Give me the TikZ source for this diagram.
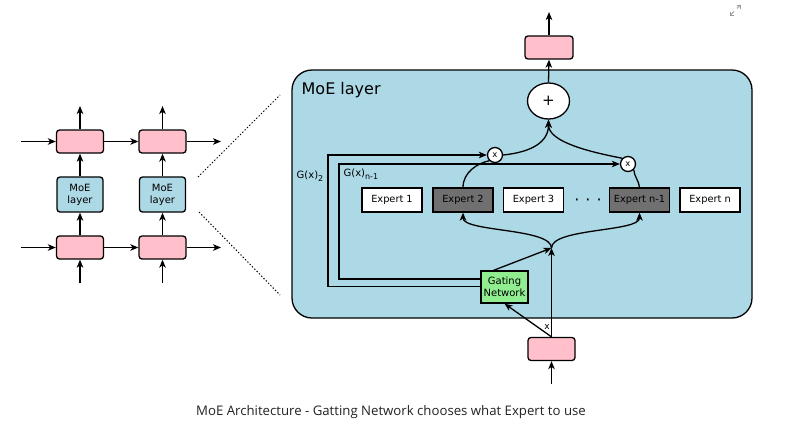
\documentclass[tikz,border=0pt]{standalone}
\usepackage{fontspec}
\setmainfont{DejaVu Sans}
\newfontfamily\capfont{Open Sans}
\usetikzlibrary{arrows.meta,shapes.geometric}
\definecolor{pinkc}{HTML}{FFC0CB}
\definecolor{lblue}{HTML}{ADD8E6}
\definecolor{lgreen}{HTML}{90EE90}
\definecolor{dgray}{HTML}{707070}
\definecolor{capcol}{HTML}{222222}
\newcommand{\mysub}[1]{\raisebox{-3pt}{\fontsize{8}{9}\selectfont #1}}
\begin{document}
\begin{tikzpicture}[x=1pt,y=-1pt,
  every path/.style={line width=1.3pt},
  arr/.style={-{Stealth[length=8pt,width=6.5pt,inset=2.2pt]}},
  pinkbox/.style={draw, fill=pinkc, rounded corners=3pt, minimum width=47pt, minimum height=23pt, inner sep=0pt},
  moebox/.style={draw, fill=lblue, rounded corners=3pt, minimum width=46pt, minimum height=35pt, inner sep=0pt, align=center, font=\fontsize{10}{12}\selectfont},
  expert/.style={draw, fill=white, minimum width=60pt, minimum height=24pt, inner sep=0pt, font=\fontsize{9.8}{12}\selectfont},
  expertsel/.style={expert, fill=dgray},
  gate/.style={draw, fill=lgreen, minimum width=47pt, minimum height=32pt, inner sep=0pt, align=center, font=\fontsize{10}{12}\selectfont},
  mult/.style={draw, fill=white, circle, minimum size=15pt, inner sep=0pt, font=\fontsize{8.5}{9}\selectfont},
  lbl/.style={inner sep=0pt, font=\fontsize{10}{12}\selectfont},
  dotln/.style={dotted, line width=1pt}
]
\useasboundingbox (0,0) rectangle (810,445);

% ---------- left stack ----------
\node[pinkbox] (t1) at (80,141.5) {};
\node[pinkbox] (t2) at (162.5,141.5) {};
\node[moebox] (m1) at (80,194.5) {MoE\\layer};
\node[moebox] (m2) at (162.5,194.5) {MoE\\layer};
\node[pinkbox] (b1) at (80,247.5) {};
\node[pinkbox] (b2) at (162.5,247.5) {};

\coordinate (t1in) at (21,141.5);
\coordinate (t2out) at (221,141.5);
\coordinate (b1in) at (21,247.5);
\coordinate (b2out) at (221,247.5);
\coordinate (t1up) at (80,106);
\coordinate (t2up) at (162.5,106);
\coordinate (b1dn) at (80,283);
\coordinate (b2dn) at (162.5,283);

\draw[arr] (t1in) -- (t1.west);
\draw[arr] (t1.east) -- (t2.west);
\draw[arr] (t2.east) -- (t2out);
\draw[arr] (b1in) -- (b1.west);
\draw[arr] (b1.east) -- (b2.west);
\draw[arr] (b2.east) -- (b2out);
\draw[arr] (t1.north) -- (t1up);
\draw[arr] (t2.north) -- (t2up);
\draw[arr] (m1.north) -- (t1.south);
\draw[arr] (m2.north) -- (t2.south);
\draw[arr] (b1.north) -- (m1.south);
\draw[arr] (b2.north) -- (m2.south);
\draw[arr] (b1dn) -- (b1.south);
\draw[arr] (b2dn) -- (b2.south);

% dotted zoom lines
\coordinate (d1a) at (198,177);
\coordinate (d1b) at (280,95);
\coordinate (d2a) at (199,212);
\coordinate (d2b) at (280,295);
\draw[dotln] (d1a) -- (d1b);
\draw[dotln] (d2a) -- (d2b);

% ---------- MoE layer box ----------
\node[draw, fill=lblue, rounded corners=20pt, minimum width=460pt, minimum height=248pt, inner sep=0pt] (moe) at (522,194) {};
\node[anchor=west, inner sep=0pt, font=\fontsize{16}{19}\selectfont] (moelbl) at (301,90) {MoE layer};

% experts
\node[expert] (e1) at (392,200) {Expert 1};
\node[expertsel] (e2) at (463,200) {Expert 2};
\node[expert] (e3) at (533.5,200) {Expert 3};
\node[inner sep=0pt, font=\fontsize{16}{16}\selectfont] (dots) at (588,202.5) {·\hspace{6pt}·\hspace{6pt}·};
\node[expertsel] (en1) at (639.5,200) {Expert n-1};
\node[expert] (en) at (710,200) {Expert n};

% gating network
\node[gate] (gn) at (504.5,287) {Gating\\Network};

% combine
\node[draw, fill=white, ellipse, minimum width=42pt, minimum height=36pt, inner sep=0pt, font=\fontsize{15}{18}\selectfont] (plus) at (548.5,101) {+};
\node[mult] (x1) at (495,155) {x};
\node[mult] (x2) at (628,164) {x};

% output / input boxes
\node[pinkbox, minimum width=48pt] (top) at (549,47.5) {};
\node[pinkbox] (bot) at (551.5,349) {};
\coordinate (topout) at (549,12);
\coordinate (botin) at (551.5,384);
\coordinate (J) at (551.5,248);

\draw[arr] (plus.north) -- (top.south);
\draw[arr] (top.north) -- (topout);
\draw[arr] (botin) -- (bot.south);
\draw[arr] (bot.north) -- (J);
\draw[arr] (bot.north) -- (gn.south);
\node[inner sep=0pt, font=\fontsize{9}{10}\selectfont] (xl) at (547,327) {x};
\path (gn.north) ++(-11,0) coordinate (gtop);
\draw[arr] (gtop) -- (J);

% dispatch curves
\draw[arr] (J) .. controls (551.5,228) and (463,232) .. (e2.south);
\draw[arr] (J) .. controls (551.5,228) and (639.5,232) .. (en1.south);

% gate weight lines
\coordinate (g2a) at (481,286.5);
\coordinate (g2b) at (328,286.5);
\coordinate (g2c) at (328,155);
\coordinate (gna) at (481,279);
\coordinate (gnb) at (339,279);
\coordinate (gnc) at (339,164);
\draw[arr] (g2a) -- (g2b) -- (g2c) -- (x1.west);
\draw[arr] (gna) -- (gnb) -- (gnc) -- (x2.west);
\node[lbl] (g2l) at (310,176) {G(x)\mysub{2}};
\node[lbl, anchor=west] (gnl) at (343,174) {G(x)\mysub{n-1}};

% expert outputs
\draw (e2.north) .. controls (463,172) and (478,163) .. (x1.south west);
\draw (en1.north) .. controls (639,181) and (634,176) .. (x2.south east);
\draw[arr] (x1.east) .. controls (532,152) and (548.5,142) .. (plus.south);
\draw[arr] (x2.north west) .. controls (590,152) and (548.5,142) .. (plus.south);

% expand icon
\draw[gray!80, line width=0.8pt] (730.5,15) -- (734,11.5);
\draw[gray!80, line width=0.8pt] (737,8.5) -- (740.5,5);
\draw[gray!80, line width=0.8pt] (730.5,11.5) -- (730.5,15) -- (734,15);
\draw[gray!80, line width=0.8pt] (737,5) -- (740.5,5) -- (740.5,8.5);

% caption
\node[inner sep=0pt, text=capcol, font=\capfont\fontsize{13.2}{16}\selectfont] (cap) at (391,412) {MoE Architecture - Gatting Network chooses what Expert to use};
\end{tikzpicture}
\end{document}
